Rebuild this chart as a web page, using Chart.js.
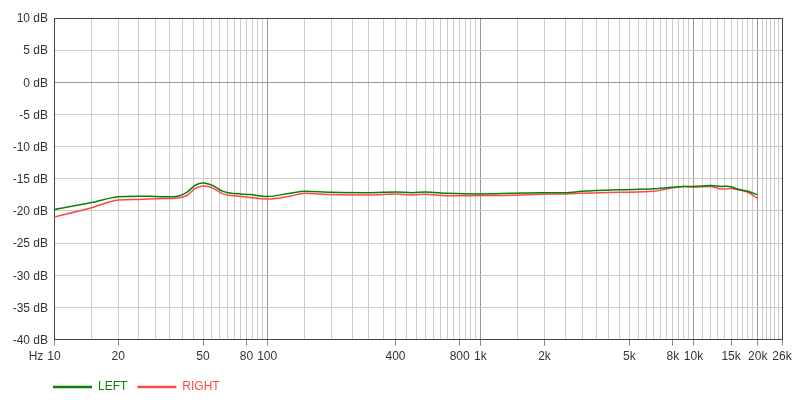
<!DOCTYPE html>
<html>
<head>
<meta charset="utf-8">
<script src="https://cdn.jsdelivr.net/npm/chart.js@4/dist/chart.umd.min.js"></script>
<style>
  html, body { margin: 0; padding: 0; background: #fff; }
  #wrap { width: 800px; height: 400px; }
</style>
</head>
<body>
<div id="wrap"><canvas id="grafico"></canvas></div>
<script>
// frequências (Hz) e níveis
const frequencias = [10, 15, 20, 25, 30, 35, 38, 42, 46, 50, 53, 56, 62, 70, 83, 100, 128, 150, 200, 300, 400, 480, 550, 700, 1000, 1400, 1900, 2500, 3000, 4500, 6500, 8000, 9000, 10000, 12000, 13600, 14400, 15000, 16100, 18000, 20000];
const nivelLeft = [-19.8, -18.7, -17.8, -17.7, -17.75, -17.8, -17.7, -17.1, -16.0, -15.65, -15.8, -16.1, -16.95, -17.3, -17.45, -17.75, -17.25, -16.95, -17.1, -17.15, -17.05, -17.15, -17.05, -17.25, -17.35, -17.25, -17.15, -17.15, -16.95, -16.7, -16.55, -16.3, -16.2, -16.2, -16.05, -16.2, -16.15, -16.25, -16.6, -16.95, -17.5];
const nivelRight = [-20.95, -19.5, -18.3, -18.2, -18.1, -18.05, -18.0, -17.6, -16.5, -16.1, -16.2, -16.5, -17.35, -17.65, -17.9, -18.15, -17.7, -17.25, -17.45, -17.5, -17.35, -17.5, -17.4, -17.65, -17.6, -17.55, -17.4, -17.35, -17.25, -17.1, -16.95, -16.4, -16.2, -16.3, -16.2, -16.6, -16.55, -16.5, -16.7, -17.1, -18.05];

// rótulos do eixo X
const ticksX = [10, 20, 50, 80, 100, 400, 800, 1000, 2000, 5000, 8000, 10000, 15000, 20000, 26000];
const rotulosX = ['10', '20', '50', '80', '100', '400', '800', '1k', '2k', '5k', '8k', '10k', '15k', '20k', '26k'];

const corLeft = '#0a800a';
const corRight = '#ff4848';

// linhas de grade verticais (passo por década)
const grade = [];
for (let v = 10; v < 100; v += 5) grade.push(v);
for (let v = 100; v < 1000; v += 50) grade.push(v);
for (let v = 1000; v < 10000; v += 500) grade.push(v);
for (let v = 10000; v <= 26000; v += 1000) grade.push(v);

const fonte = { family: '"Liberation Sans", Arial, sans-serif', size: 12 };

function rotuloDe(v) {
  const i = ticksX.indexOf(Math.round(v));
  return i >= 0 ? rotulosX[i] : '';
}

// texto "Hz" à esquerda do primeiro rótulo
const pluginHz = {
  id: 'hz',
  afterDraw(chart) {
    const x = chart.scales.x;
    const ctx = chart.ctx;
    ctx.save();
    ctx.font = '12px ' + fonte.family;
    ctx.fillStyle = '#333';
    ctx.textAlign = 'right';
    ctx.textBaseline = 'middle';
    const px = x.getPixelForValue(10) - ctx.measureText('10').width / 2 - 4;
    ctx.fillText('Hz', px, x.top + 17);
    ctx.restore();
  }
};

// legenda alinhada com a área do gráfico
const pluginLegenda = {
  id: 'posLegenda',
  afterLayout(chart) {
    const lg = chart.legend;
    const dx = chart.chartArea.left - 11 - lg.left;
    lg.left += dx;
    lg.right += dx;
    lg.top += 3;
    lg.bottom += 3;
  }
};

new Chart(document.getElementById('grafico'), {
  type: 'line',
  data: {
    datasets: [
      {
        label: 'LEFT',
        data: frequencias.map((f, i) => ({ x: f, y: nivelLeft[i] })),
        borderColor: corLeft,
        borderWidth: 1.5,
        pointRadius: 0,
        cubicInterpolationMode: 'monotone'
      },
      {
        label: 'RIGHT',
        data: frequencias.map((f, i) => ({ x: f, y: nivelRight[i] })),
        borderColor: corRight,
        borderWidth: 1.5,
        pointRadius: 0,
        cubicInterpolationMode: 'monotone'
      }
    ]
  },
  options: {
    responsive: true,
    maintainAspectRatio: false,
    animation: false,
    layout: { padding: { left: 4, right: 18, top: 18, bottom: 0 } },
    plugins: {
      tooltip: { enabled: false },
      legend: {
        position: 'bottom',
        align: 'start',
        labels: {
          usePointStyle: true,
          pointStyle: 'line',
          pointStyleWidth: 39,
          padding: 10,
          font: fonte,
          generateLabels(chart) {
            return chart.data.datasets.map((ds, i) => ({
              text: ds.label,
              fillStyle: ds.borderColor,
              strokeStyle: ds.borderColor,
              fontColor: ds.borderColor,
              lineWidth: 2.5,
              pointStyle: 'line',
              hidden: false,
              datasetIndex: i
            }));
          }
        }
      }
    },
    scales: {
      x: {
        type: 'logarithmic',
        min: 10,
        max: 26000,
        afterBuildTicks(s) { s.ticks = grade.map(v => ({ value: v })); },
        ticks: {
          autoSkip: false,
          maxRotation: 0,
          padding: 4,
          color: '#333',
          font: fonte,
          callback: v => rotuloDe(v)
        },
        grid: {
          tickLength: 6,
          color(c) {
            const v = Math.round(c.tick.value);
            if (v === 26000) return '#444';
            if (v === 100 || v === 1000 || v === 10000 || v === 20000) return '#999';
            return '#cccccc';
          },
          tickColor(c) {
            return rotuloDe(c.tick.value) ? '#888' : 'rgba(0,0,0,0)';
          }
        },
        border: { color: '#444' }
      },
      y: {
        min: -40,
        max: 10,
        afterFit(s) { s.width = 50; },
        ticks: {
          stepSize: 2.5,
          padding: 6,
          labelOffset: 1,
          color: '#333',
          font: fonte,
          callback: v => (v % 5 === 0 ? v + ' dB' : '')
        },
        grid: {
          drawTicks: false,
          color(c) {
            const v = c.tick.value;
            if (v === 10) return '#444';
            if (v === 0) return '#999';
            return '#cccccc';
          }
        },
        border: { color: '#444' }
      }
    }
  },
  plugins: [pluginHz, pluginLegenda]
});
</script>
</body>
</html>
